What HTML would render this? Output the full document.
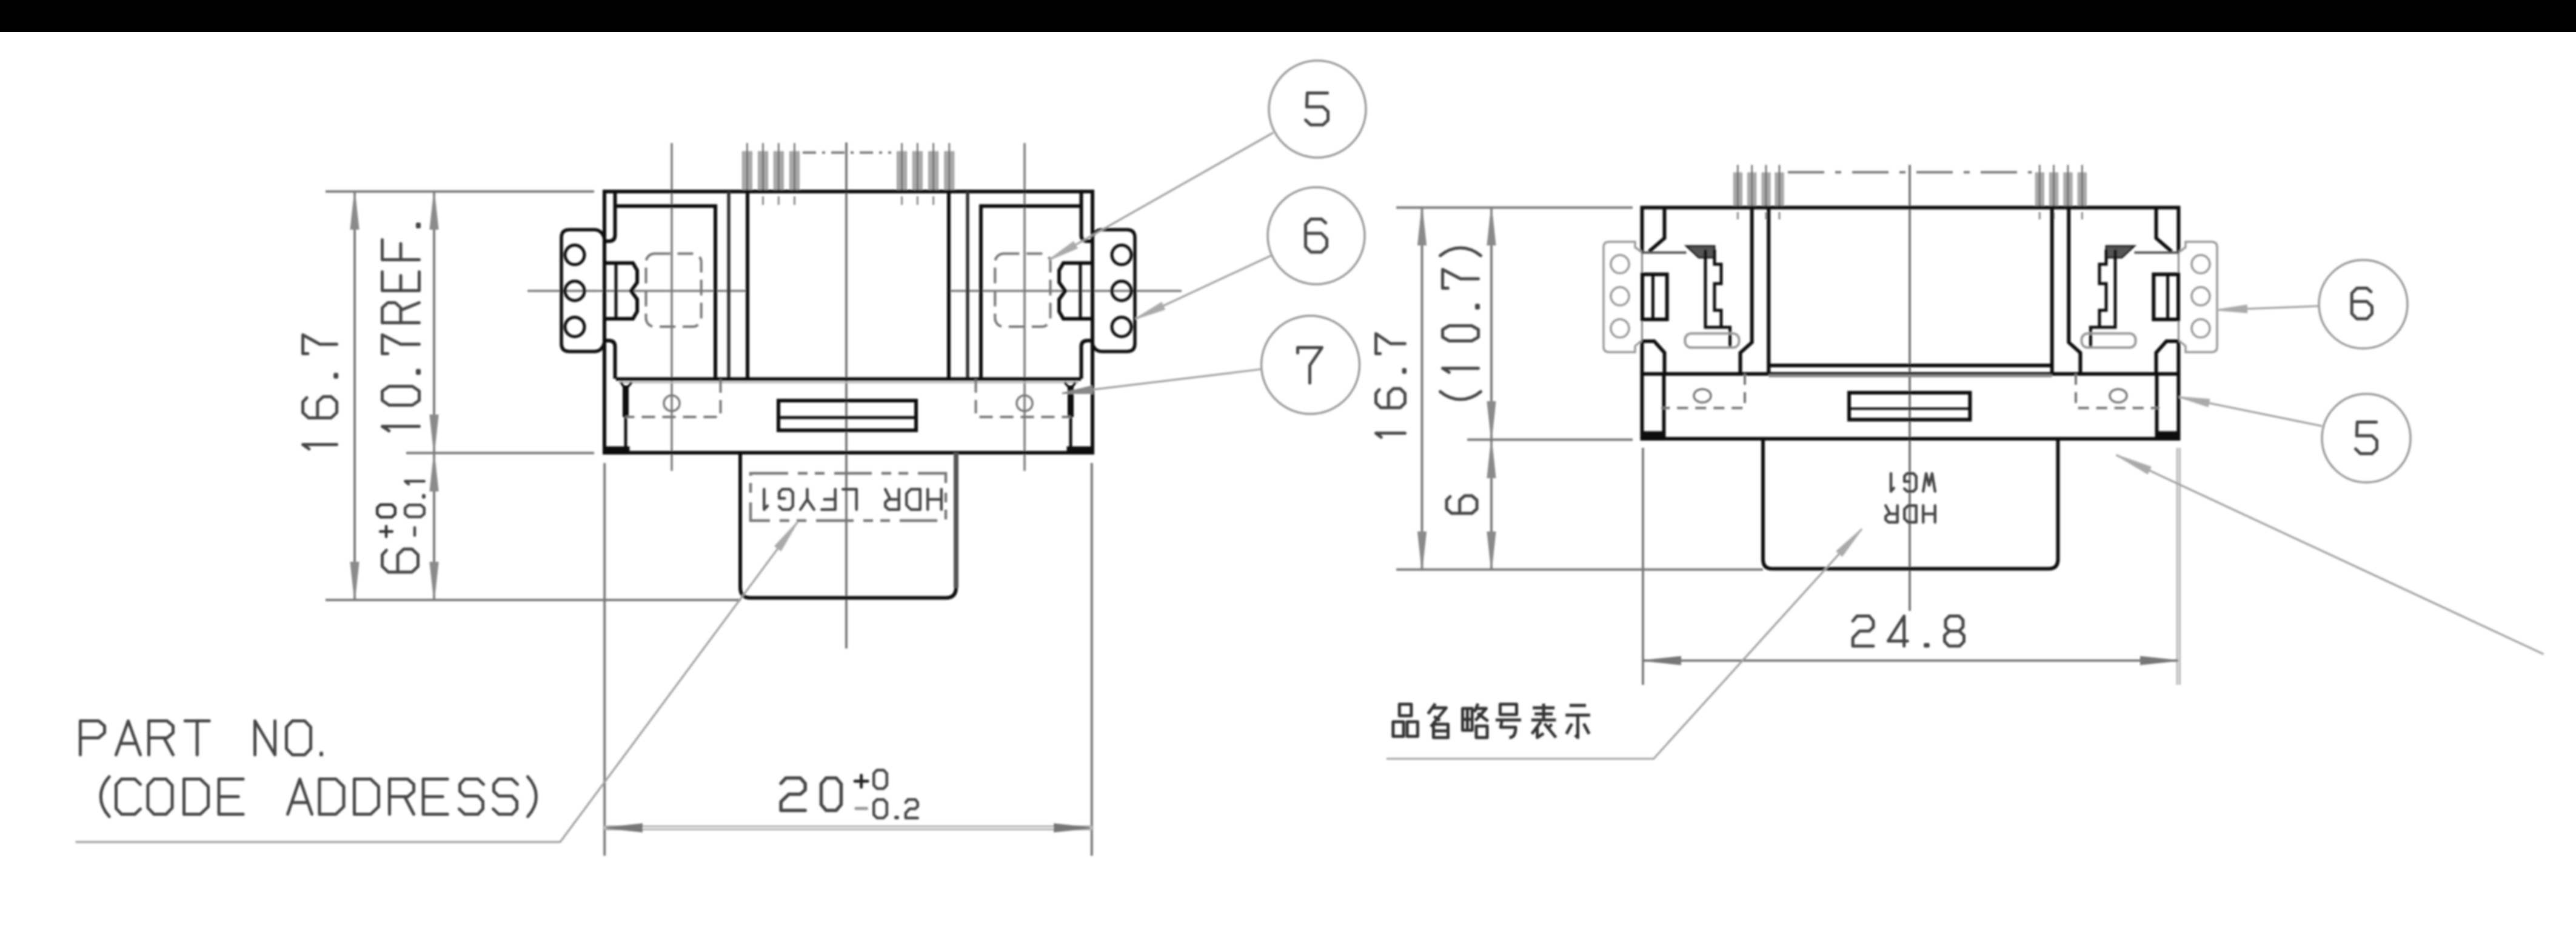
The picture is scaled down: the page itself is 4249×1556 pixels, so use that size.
<!DOCTYPE html>
<html><head><meta charset="utf-8"><title>Drawing</title>
<style>html,body{margin:0;padding:0;background:#fff;overflow:hidden}svg{display:block}</style>
</head><body>
<svg width="4249" height="1556" viewBox="0 0 4249 1556">
<defs><filter id="bl" x="0" y="0" width="4249" height="1556" filterUnits="userSpaceOnUse"><feGaussianBlur stdDeviation="1.6"/></filter></defs>
<rect width="4249" height="1556" fill="#fff"/>
<g filter="url(#bl)">
<line x1="1396.0" y1="235.0" x2="1396.0" y2="1070.0" stroke="#7a7a7a" stroke-width="4" />
<line x1="1108.0" y1="236.0" x2="1108.0" y2="777.0" stroke="#7a7a7a" stroke-width="3.5" />
<line x1="1690.0" y1="236.0" x2="1690.0" y2="777.0" stroke="#7a7a7a" stroke-width="3.5" />
<line x1="870.0" y1="480.0" x2="1232.0" y2="480.0" stroke="#7a7a7a" stroke-width="3.5" />
<line x1="1566.0" y1="480.0" x2="1949.0" y2="480.0" stroke="#7a7a7a" stroke-width="3.5" />
<line x1="1324.0" y1="251.7" x2="1470.0" y2="251.7" stroke="#7a7a7a" stroke-width="4" stroke-dasharray="22 10 5 10"/>
<rect x="1224.3" y="250.0" width="16.0" height="64.0" rx="0" stroke="#999" stroke-width="1" fill="#a9a9a9" />
<line x1="1232.3" y1="236.0" x2="1232.3" y2="316.0" stroke="#666" stroke-width="2.5" />
<rect x="1250.5" y="250.0" width="16.0" height="64.0" rx="0" stroke="#999" stroke-width="1" fill="#a9a9a9" />
<line x1="1258.5" y1="236.0" x2="1258.5" y2="316.0" stroke="#666" stroke-width="2.5" />
<rect x="1276.3" y="250.0" width="16.0" height="64.0" rx="0" stroke="#999" stroke-width="1" fill="#a9a9a9" />
<line x1="1284.3" y1="236.0" x2="1284.3" y2="316.0" stroke="#666" stroke-width="2.5" />
<rect x="1302.5" y="250.0" width="16.0" height="64.0" rx="0" stroke="#999" stroke-width="1" fill="#a9a9a9" />
<line x1="1310.5" y1="236.0" x2="1310.5" y2="316.0" stroke="#666" stroke-width="2.5" />
<rect x="1479.6" y="250.0" width="16.0" height="64.0" rx="0" stroke="#999" stroke-width="1" fill="#a9a9a9" />
<line x1="1487.6" y1="236.0" x2="1487.6" y2="316.0" stroke="#666" stroke-width="2.5" />
<rect x="1505.3" y="250.0" width="16.0" height="64.0" rx="0" stroke="#999" stroke-width="1" fill="#a9a9a9" />
<line x1="1513.3" y1="236.0" x2="1513.3" y2="316.0" stroke="#666" stroke-width="2.5" />
<rect x="1531.6" y="250.0" width="16.0" height="64.0" rx="0" stroke="#999" stroke-width="1" fill="#a9a9a9" />
<line x1="1539.6" y1="236.0" x2="1539.6" y2="316.0" stroke="#666" stroke-width="2.5" />
<rect x="1557.8" y="250.0" width="16.0" height="64.0" rx="0" stroke="#999" stroke-width="1" fill="#a9a9a9" />
<line x1="1565.8" y1="236.0" x2="1565.8" y2="316.0" stroke="#666" stroke-width="2.5" />
<line x1="1258.5" y1="324.0" x2="1258.5" y2="338.0" stroke="#888" stroke-width="3" />
<line x1="1284.3" y1="324.0" x2="1284.3" y2="338.0" stroke="#888" stroke-width="3" />
<line x1="1310.5" y1="324.0" x2="1310.5" y2="338.0" stroke="#888" stroke-width="3" />
<line x1="1487.6" y1="324.0" x2="1487.6" y2="338.0" stroke="#888" stroke-width="3" />
<line x1="1513.3" y1="324.0" x2="1513.3" y2="338.0" stroke="#888" stroke-width="3" />
<line x1="1539.6" y1="324.0" x2="1539.6" y2="338.0" stroke="#888" stroke-width="3" />
<path d="M997 316H1802V747H997Z" stroke="#111" stroke-width="6" fill="none" />
<path d="M1014.5 340H1180V624" stroke="#111" stroke-width="6" fill="none" />
<path d="M1783.5 340H1618.0V624" stroke="#111" stroke-width="6" fill="none" />
<line x1="1202.0" y1="316.0" x2="1202.0" y2="625.0" stroke="#333" stroke-width="5.5" />
<line x1="1596.0" y1="316.0" x2="1596.0" y2="625.0" stroke="#333" stroke-width="5.5" />
<line x1="1233.0" y1="316.0" x2="1233.0" y2="625.0" stroke="#111" stroke-width="6" />
<line x1="1565.0" y1="316.0" x2="1565.0" y2="625.0" stroke="#111" stroke-width="6" />
<line x1="1016.0" y1="625.5" x2="1783.0" y2="625.5" stroke="#111" stroke-width="6" />
<line x1="1020.0" y1="631.0" x2="1779.0" y2="631.0" stroke="#bbb" stroke-width="3" />
<path d="M1014.5 316V388Q1014.5 398 1004 398H997" stroke="#111" stroke-width="6" fill="none" />
<path d="M997 562H1004Q1014.5 562 1014.5 572V625" stroke="#111" stroke-width="6" fill="none" />
<path d="M1783.5 316V388Q1783.5 398 1794.0 398H1801.0" stroke="#111" stroke-width="6" fill="none" />
<path d="M1801.0 562H1794.0Q1783.5 562 1783.5 572V625" stroke="#111" stroke-width="6" fill="none" />
<path d="M997 394Q993 379 980 379H939Q926 379 926 392V567Q926 580 939 580H980Q993 580 997 565" stroke="#111" stroke-width="5.5" fill="none" />
<circle cx="948.0" cy="420.6" r="16.0" stroke="#111" stroke-width="5" fill="none" />
<circle cx="948.0" cy="480.0" r="16.0" stroke="#111" stroke-width="5" fill="none" />
<circle cx="948.0" cy="539.4" r="16.0" stroke="#111" stroke-width="5" fill="none" />
<path d="M997.0 434.0 L1044.0 434.0 L1051.0 446.0 L1051.0 466.0 L1041.0 480.0 L1051.0 494.0 L1051.0 514.0 L1044.0 526.0 L997.0 526.0" stroke="#111" stroke-width="6" fill="none"/>
<line x1="1016.0" y1="434.0" x2="1016.0" y2="526.0" stroke="#111" stroke-width="5" />
<rect x="1065.5" y="418.5" width="91.2" height="120.5" rx="14" stroke="#777" stroke-width="4" fill="none" stroke-dasharray="26 12"/>
<line x1="1032.0" y1="640.0" x2="1032.0" y2="745.0" stroke="#111" stroke-width="5" />
<line x1="1032.0" y1="636.0" x2="1032.0" y2="688.0" stroke="#111" stroke-width="10" />
<path d="M1024 631L1032 642L1042 631" stroke="#111" stroke-width="4" fill="none" />
<rect x="997.0" y="737.0" width="41.0" height="9.0" rx="0" stroke="#111" stroke-width="1" fill="#111" />
<path d="M1188.5 626V688H1031.5" stroke="#777" stroke-width="4" fill="none" stroke-dasharray="22 12"/>
<circle cx="1108.0" cy="665.4" r="13.0" stroke="#777" stroke-width="3.5" fill="none" />
<path d="M1801.0 394Q1805.0 379 1818.0 379H1859.0Q1872.0 379 1872.0 392V567Q1872.0 580 1859.0 580H1818.0Q1805.0 580 1801.0 565" stroke="#111" stroke-width="5.5" fill="none" />
<circle cx="1850.0" cy="420.6" r="16.0" stroke="#111" stroke-width="5" fill="none" />
<circle cx="1850.0" cy="480.0" r="16.0" stroke="#111" stroke-width="5" fill="none" />
<circle cx="1850.0" cy="539.4" r="16.0" stroke="#111" stroke-width="5" fill="none" />
<path d="M1801.0 434.0 L1754.0 434.0 L1747.0 446.0 L1747.0 466.0 L1757.0 480.0 L1747.0 494.0 L1747.0 514.0 L1754.0 526.0 L1801.0 526.0" stroke="#111" stroke-width="6" fill="none"/>
<line x1="1782.0" y1="434.0" x2="1782.0" y2="526.0" stroke="#111" stroke-width="5" />
<rect x="1641.3" y="418.5" width="91.2" height="120.5" rx="14" stroke="#777" stroke-width="4" fill="none" stroke-dasharray="26 12"/>
<line x1="1766.0" y1="640.0" x2="1766.0" y2="745.0" stroke="#111" stroke-width="5" />
<line x1="1766.0" y1="636.0" x2="1766.0" y2="688.0" stroke="#111" stroke-width="10" />
<path d="M1774.0 631L1766.0 642L1756.0 631" stroke="#111" stroke-width="4" fill="none" />
<rect x="1760.0" y="737.0" width="41.0" height="9.0" rx="0" stroke="#111" stroke-width="1" fill="#111" />
<path d="M1609.5 626V688H1766.5" stroke="#777" stroke-width="4" fill="none" stroke-dasharray="22 12"/>
<circle cx="1690.0" cy="665.4" r="13.0" stroke="#777" stroke-width="3.5" fill="none" />
<rect x="1284.0" y="661.0" width="227.0" height="49.0" rx="0" stroke="#111" stroke-width="6" fill="none" />
<line x1="1284.0" y1="689.0" x2="1511.0" y2="689.0" stroke="#111" stroke-width="5" />
<path d="M1221 747V969Q1221 986.6 1238 986.6H1560Q1577 986.6 1577 969" stroke="#111" stroke-width="6" fill="none" />
<line x1="1577.0" y1="747.0" x2="1577.0" y2="970.0" stroke="#555" stroke-width="8" />
<rect x="1238.0" y="781.0" width="322.0" height="78.0" rx="0" stroke="#777" stroke-width="4.5" fill="none" stroke-dasharray="62 16 16 12 16 16"/>
<line x1="537.0" y1="316.0" x2="980.0" y2="316.0" stroke="#7a7a7a" stroke-width="4" />
<line x1="670.0" y1="747.5" x2="980.0" y2="747.5" stroke="#7a7a7a" stroke-width="4" />
<line x1="537.0" y1="990.0" x2="1222.0" y2="990.0" stroke="#7a7a7a" stroke-width="4" />
<line x1="585.0" y1="316.0" x2="585.0" y2="990.0" stroke="#7a7a7a" stroke-width="4" />
<path d="M585.0 318.0L591.5 378.0L578.5 378.0Z" fill="#8a8a8a" stroke="#8a8a8a" stroke-width="2"/>
<path d="M585.0 988.0L578.5 928.0L591.5 928.0Z" fill="#8a8a8a" stroke="#8a8a8a" stroke-width="2"/>
<line x1="716.0" y1="316.0" x2="716.0" y2="990.0" stroke="#7a7a7a" stroke-width="4" />
<path d="M716.0 318.0L722.5 378.0L709.5 378.0Z" fill="#8a8a8a" stroke="#8a8a8a" stroke-width="2"/>
<path d="M716.0 745.0L709.5 685.0L722.5 685.0Z" fill="#8a8a8a" stroke="#8a8a8a" stroke-width="2"/>
<path d="M716.0 750.0L722.5 810.0L709.5 810.0Z" fill="#8a8a8a" stroke="#8a8a8a" stroke-width="2"/>
<path d="M716.0 988.0L709.5 928.0L722.5 928.0Z" fill="#8a8a8a" stroke="#8a8a8a" stroke-width="2"/>
<line x1="997.2" y1="764.0" x2="997.2" y2="1412.0" stroke="#7a7a7a" stroke-width="4" />
<line x1="1800.8" y1="764.0" x2="1800.8" y2="1412.0" stroke="#7a7a7a" stroke-width="4" />
<line x1="997.0" y1="1366.0" x2="1801.0" y2="1366.0" stroke="#aaa" stroke-width="8" />
<line x1="997.0" y1="1366.0" x2="1801.0" y2="1366.0" stroke="#eee" stroke-width="3" />
<path d="M999.0 1366.0L1059.0 1359.5L1059.0 1372.5Z" fill="#777" stroke="#777" stroke-width="2"/>
<path d="M1799.0 1366.0L1739.0 1372.5L1739.0 1359.5Z" fill="#777" stroke="#777" stroke-width="2"/>
<line x1="3150.0" y1="272.0" x2="3150.0" y2="1008.0" stroke="#7a7a7a" stroke-width="4" />
<line x1="2949.0" y1="284.3" x2="3351.5" y2="284.3" stroke="#7a7a7a" stroke-width="4" stroke-dasharray="60 18 10 18"/>
<rect x="2859.4" y="285.0" width="14.0" height="57.0" rx="0" stroke="#999" stroke-width="1" fill="#a9a9a9" />
<line x1="2866.4" y1="272.0" x2="2866.4" y2="342.0" stroke="#666" stroke-width="2.5" />
<rect x="2882.7" y="285.0" width="14.0" height="57.0" rx="0" stroke="#999" stroke-width="1" fill="#a9a9a9" />
<line x1="2889.7" y1="272.0" x2="2889.7" y2="342.0" stroke="#666" stroke-width="2.5" />
<rect x="2906.0" y="285.0" width="14.0" height="57.0" rx="0" stroke="#999" stroke-width="1" fill="#a9a9a9" />
<line x1="2913.0" y1="272.0" x2="2913.0" y2="342.0" stroke="#666" stroke-width="2.5" />
<rect x="2928.0" y="285.0" width="14.0" height="57.0" rx="0" stroke="#999" stroke-width="1" fill="#a9a9a9" />
<line x1="2935.0" y1="272.0" x2="2935.0" y2="342.0" stroke="#666" stroke-width="2.5" />
<rect x="3357.3" y="285.0" width="14.0" height="57.0" rx="0" stroke="#999" stroke-width="1" fill="#a9a9a9" />
<line x1="3364.3" y1="272.0" x2="3364.3" y2="342.0" stroke="#666" stroke-width="2.5" />
<rect x="3380.6" y="285.0" width="14.0" height="57.0" rx="0" stroke="#999" stroke-width="1" fill="#a9a9a9" />
<line x1="3387.6" y1="272.0" x2="3387.6" y2="342.0" stroke="#666" stroke-width="2.5" />
<rect x="3404.0" y="285.0" width="14.0" height="57.0" rx="0" stroke="#999" stroke-width="1" fill="#a9a9a9" />
<line x1="3411.0" y1="272.0" x2="3411.0" y2="342.0" stroke="#666" stroke-width="2.5" />
<rect x="3427.3" y="285.0" width="14.0" height="57.0" rx="0" stroke="#999" stroke-width="1" fill="#a9a9a9" />
<line x1="3434.3" y1="272.0" x2="3434.3" y2="342.0" stroke="#666" stroke-width="2.5" />
<line x1="2866.4" y1="350.0" x2="2866.4" y2="362.0" stroke="#888" stroke-width="3" />
<line x1="2913.0" y1="350.0" x2="2913.0" y2="362.0" stroke="#888" stroke-width="3" />
<line x1="2935.0" y1="350.0" x2="2935.0" y2="362.0" stroke="#888" stroke-width="3" />
<line x1="3364.3" y1="350.0" x2="3364.3" y2="362.0" stroke="#888" stroke-width="3" />
<line x1="3387.6" y1="350.0" x2="3387.6" y2="362.0" stroke="#888" stroke-width="3" />
<line x1="3434.3" y1="350.0" x2="3434.3" y2="362.0" stroke="#888" stroke-width="3" />
<path d="M2708.5 417V342.4H3593.4V417" stroke="#111" stroke-width="6" fill="none" />
<path d="M2708.5 562V724H3593.4V562" stroke="#111" stroke-width="6" fill="none" />
<line x1="2708.5" y1="417.0" x2="2708.5" y2="562.0" stroke="#888" stroke-width="3" />
<line x1="3593.4" y1="417.0" x2="3593.4" y2="562.0" stroke="#888" stroke-width="3" />
<line x1="2708.5" y1="617.0" x2="3593.4" y2="617.0" stroke="#111" stroke-width="6" />
<line x1="2917.3" y1="342.0" x2="2917.3" y2="617.0" stroke="#111" stroke-width="6" />
<line x1="3384.7" y1="342.0" x2="3384.7" y2="617.0" stroke="#111" stroke-width="6" />
<line x1="2917.3" y1="603.0" x2="3384.7" y2="603.0" stroke="#111" stroke-width="6" />
<line x1="2917.3" y1="620.0" x2="3384.7" y2="620.0" stroke="#888" stroke-width="5" />
<path d="M2889.7 342V565L2870.6 582V617" stroke="#111" stroke-width="6" fill="none" />
<path d="M2745.5 342V393L2720 415" stroke="#111" stroke-width="6" fill="none" />
<line x1="2708.5" y1="416.7" x2="2781.5" y2="416.7" stroke="#555" stroke-width="4" />
<path d="M2781.5 406H2828V425H2802Z" fill="#555" stroke="#222" stroke-width="3"/>
<path d="M2813 412V540H2853.6V573.6" stroke="#111" stroke-width="5" fill="none" />
<path d="M2828 412V436H2839V468H2828V512H2839V540" stroke="#111" stroke-width="5" fill="none" />
<rect x="2779.4" y="550.3" width="89.1" height="23.3" rx="10" stroke="#999" stroke-width="4" fill="none" />
<rect x="2709.0" y="452.7" width="40.7" height="74.3" rx="0" stroke="#111" stroke-width="6" fill="none" />
<line x1="2726.4" y1="452.7" x2="2726.4" y2="527.0" stroke="#111" stroke-width="5" />
<path d="M2709 563H2728.5L2745.5 582V617" stroke="#111" stroke-width="6" fill="none" />
<path d="M2708 416L2697 408V399H2654Q2645 399 2645 408V572Q2645 581 2654 581H2697V571L2708 562" stroke="#999" stroke-width="3.5" fill="none" />
<circle cx="2672.0" cy="435.8" r="15.0" stroke="#999" stroke-width="3.5" fill="none" />
<circle cx="2672.0" cy="488.8" r="15.0" stroke="#999" stroke-width="3.5" fill="none" />
<circle cx="2672.0" cy="541.8" r="15.0" stroke="#999" stroke-width="3.5" fill="none" />
<line x1="2744.5" y1="620.0" x2="2744.5" y2="722.0" stroke="#111" stroke-width="6" />
<rect x="2708.5" y="712.0" width="36.0" height="12.0" rx="0" stroke="#111" stroke-width="1" fill="#111" />
<path d="M2878 617V673.3H2740" stroke="#777" stroke-width="4" fill="none" stroke-dasharray="18 12"/>
<ellipse cx="2808" cy="653" rx="14" ry="11" stroke="#777" stroke-width="3.5" fill="none"/>
<path d="M3412.3 342V565L3431.4 582V617" stroke="#111" stroke-width="6" fill="none" />
<path d="M3556.5 342V393L3582.0 415" stroke="#111" stroke-width="6" fill="none" />
<line x1="3593.5" y1="416.7" x2="3520.5" y2="416.7" stroke="#555" stroke-width="4" />
<path d="M3520.5 406H3474.0V425H3500.0Z" fill="#555" stroke="#222" stroke-width="3"/>
<path d="M3489.0 412V540H3448.4V573.6" stroke="#111" stroke-width="5" fill="none" />
<path d="M3474.0 412V436H3463.0V468H3474.0V512H3463.0V540" stroke="#111" stroke-width="5" fill="none" />
<rect x="3433.5" y="550.3" width="89.1" height="23.3" rx="10" stroke="#999" stroke-width="4" fill="none" />
<rect x="3552.3" y="452.7" width="40.7" height="74.3" rx="0" stroke="#111" stroke-width="6" fill="none" />
<line x1="3575.6" y1="452.7" x2="3575.6" y2="527.0" stroke="#111" stroke-width="5" />
<path d="M3593.0 563H3573.5L3556.5 582V617" stroke="#111" stroke-width="6" fill="none" />
<path d="M3594.0 416L3605.0 408V399H3648.0Q3657.0 399 3657.0 408V572Q3657.0 581 3648.0 581H3605.0V571L3594.0 562" stroke="#999" stroke-width="3.5" fill="none" />
<circle cx="3630.0" cy="435.8" r="15.0" stroke="#999" stroke-width="3.5" fill="none" />
<circle cx="3630.0" cy="488.8" r="15.0" stroke="#999" stroke-width="3.5" fill="none" />
<circle cx="3630.0" cy="541.8" r="15.0" stroke="#999" stroke-width="3.5" fill="none" />
<line x1="3557.5" y1="620.0" x2="3557.5" y2="722.0" stroke="#111" stroke-width="6" />
<rect x="3557.5" y="712.0" width="36.0" height="12.0" rx="0" stroke="#111" stroke-width="1" fill="#111" />
<path d="M3424.0 617V673.3H3562.0" stroke="#777" stroke-width="4" fill="none" stroke-dasharray="18 12"/>
<ellipse cx="3494.0" cy="653" rx="14" ry="11" stroke="#777" stroke-width="3.5" fill="none"/>
<rect x="3050.0" y="648.0" width="199.4" height="44.4" rx="0" stroke="#111" stroke-width="6" fill="none" />
<line x1="3050.0" y1="674.2" x2="3249.4" y2="674.2" stroke="#111" stroke-width="4" />
<path d="M2908 724V923Q2908 938.5 2923 938.5H3379Q3394.5 938.5 3394.5 923V724" stroke="#111" stroke-width="6" fill="none" />
<line x1="2303.0" y1="342.4" x2="2693.0" y2="342.4" stroke="#7a7a7a" stroke-width="4" />
<line x1="2420.0" y1="725.5" x2="2693.0" y2="725.5" stroke="#7a7a7a" stroke-width="4" />
<line x1="2303.0" y1="939.8" x2="2908.0" y2="939.8" stroke="#7a7a7a" stroke-width="4" />
<line x1="2345.5" y1="342.0" x2="2345.5" y2="940.0" stroke="#7a7a7a" stroke-width="4" />
<path d="M2345.5 344.0L2352.0 404.0L2339.0 404.0Z" fill="#8a8a8a" stroke="#8a8a8a" stroke-width="2"/>
<path d="M2345.5 938.0L2339.0 878.0L2352.0 878.0Z" fill="#8a8a8a" stroke="#8a8a8a" stroke-width="2"/>
<line x1="2460.0" y1="342.0" x2="2460.0" y2="940.0" stroke="#7a7a7a" stroke-width="4" />
<path d="M2460.0 344.0L2466.5 404.0L2453.5 404.0Z" fill="#8a8a8a" stroke="#8a8a8a" stroke-width="2"/>
<path d="M2460.0 723.0L2453.5 663.0L2466.5 663.0Z" fill="#8a8a8a" stroke="#8a8a8a" stroke-width="2"/>
<path d="M2460.0 728.0L2466.5 788.0L2453.5 788.0Z" fill="#8a8a8a" stroke="#8a8a8a" stroke-width="2"/>
<path d="M2460.0 938.0L2453.5 878.0L2466.5 878.0Z" fill="#8a8a8a" stroke="#8a8a8a" stroke-width="2"/>
<line x1="2710.0" y1="739.0" x2="2710.0" y2="1130.0" stroke="#7a7a7a" stroke-width="4" />
<line x1="3593.3" y1="739.0" x2="3593.3" y2="1130.0" stroke="#aaa" stroke-width="7" />
<line x1="3593.3" y1="739.0" x2="3593.3" y2="1130.0" stroke="#f4f4f4" stroke-width="2" />
<line x1="2710.0" y1="1090.0" x2="3593.0" y2="1090.0" stroke="#7a7a7a" stroke-width="4" />
<path d="M2712.0 1090.0L2772.0 1083.5L2772.0 1096.5Z" fill="#777" stroke="#777" stroke-width="2"/>
<path d="M3591.0 1090.0L3531.0 1096.5L3531.0 1083.5Z" fill="#777" stroke="#777" stroke-width="2"/>
<circle cx="2173.0" cy="180.0" r="80.0" stroke="#999" stroke-width="3.5" fill="none" />
<circle cx="2171.0" cy="389.0" r="80.0" stroke="#999" stroke-width="3.5" fill="none" />
<circle cx="2161.5" cy="602.0" r="81.0" stroke="#999" stroke-width="3.5" fill="none" />
<path d="M2100.0 219.0 L1730.0 429.0" stroke="#a0a0a0" stroke-width="3.2" fill="none"/>
<path d="M1730.0 429.0L1770.5 399.1L1776.4 409.5Z" fill="#aaa" stroke="#aaa" stroke-width="2"/>
<path d="M2096.0 422.0 L1873.0 526.0" stroke="#a0a0a0" stroke-width="3.2" fill="none"/>
<path d="M1873.0 526.0L1915.8 499.4L1920.9 510.3Z" fill="#aaa" stroke="#aaa" stroke-width="2"/>
<path d="M2081.0 609.0 L2066.0 611.0 L1752.0 649.0" stroke="#a0a0a0" stroke-width="3.2" fill="none"/>
<path d="M1752.0 649.0L1800.9 637.0L1802.4 648.9Z" fill="#888" stroke="#888" stroke-width="2"/>
<path d="M124.5 1389.3 L924.0 1389.3 L1316.0 860.6" stroke="#a0a0a0" stroke-width="3.2" fill="none"/>
<path d="M1316.0 860.6L1288.1 908.4L1278.4 901.2Z" fill="#aaa" stroke="#aaa" stroke-width="2"/>
<circle cx="3898.0" cy="502.0" r="73.0" stroke="#999" stroke-width="3.5" fill="none" />
<circle cx="3903.0" cy="723.0" r="73.0" stroke="#999" stroke-width="3.5" fill="none" />
<path d="M3825.0 505.0 L3656.0 511.5" stroke="#a0a0a0" stroke-width="3.2" fill="none"/>
<path d="M3656.0 511.5L3705.7 503.6L3706.2 515.6Z" fill="#aaa" stroke="#aaa" stroke-width="2"/>
<path d="M3830.0 703.0 L3594.0 655.0" stroke="#a0a0a0" stroke-width="3.2" fill="none"/>
<path d="M3594.0 655.0L3644.2 659.1L3641.8 670.8Z" fill="#aaa" stroke="#aaa" stroke-width="2"/>
<path d="M4195.5 1079.4 L3490.5 750.7" stroke="#a0a0a0" stroke-width="3.2" fill="none"/>
<path d="M3490.5 750.7L3547.4 770.6L3542.3 781.5Z" fill="#aaa" stroke="#aaa" stroke-width="2"/>
<path d="M2287.0 1252.0 L2727.6 1252.0 L3071.0 872.7" stroke="#a0a0a0" stroke-width="3.2" fill="none"/>
<path d="M3071.0 872.7L3038.5 917.5L3029.6 909.4Z" fill="#aaa" stroke="#aaa" stroke-width="2"/>
<path d="M0 6V0H3L4 0.9V2.1L3 3H0" transform="translate(132.50,1189.50) scale(10.0000,9.3333)" stroke="#444" stroke-width="5" fill="none" vector-effect="non-scaling-stroke" stroke-linecap="round" stroke-linejoin="round"/>
<path d="M0 6L2 0L4 6M0.7 4H3.3" transform="translate(191.50,1189.50) scale(10.0000,9.3333)" stroke="#444" stroke-width="5" fill="none" vector-effect="non-scaling-stroke" stroke-linecap="round" stroke-linejoin="round"/>
<path d="M0 6V0H3L4 0.9V2.1L3 3H0M2.5 3L4 6" transform="translate(245.50,1189.50) scale(10.0000,9.3333)" stroke="#444" stroke-width="5" fill="none" vector-effect="non-scaling-stroke" stroke-linecap="round" stroke-linejoin="round"/>
<path d="M0 0H4M2 0V6" transform="translate(305.20,1189.50) scale(10.0000,9.3333)" stroke="#444" stroke-width="5" fill="none" vector-effect="non-scaling-stroke" stroke-linecap="round" stroke-linejoin="round"/>
<path d="M0 6V0L4 6V0" transform="translate(420.50,1189.50) scale(8.2500,9.3333)" stroke="#444" stroke-width="5" fill="none" vector-effect="non-scaling-stroke" stroke-linecap="round" stroke-linejoin="round"/>
<path d="M1 0H3L4 1.1V4.9L3 6H1L0 4.9V1.1Z" transform="translate(472.50,1189.50) scale(10.0000,9.3333)" stroke="#444" stroke-width="5" fill="none" vector-effect="non-scaling-stroke" stroke-linecap="round" stroke-linejoin="round"/>
<path d="M1.7 5.7H2.3V6H1.7Z" transform="translate(526.50,1189.50) scale(1.7500,9.3333)" stroke="#444" stroke-width="5" fill="none" vector-effect="non-scaling-stroke" stroke-linecap="round" stroke-linejoin="round"/>
<path d="M2.6 -0.4Q1 1.2 1 3Q1 4.8 2.6 6.4" transform="translate(157.50,1285.50) scale(8.7500,9.6667)" stroke="#444" stroke-width="5" fill="none" vector-effect="non-scaling-stroke" stroke-linecap="round" stroke-linejoin="round"/>
<path d="M4 0.9L3.1 0H0.9L0 1V5L0.9 6H3.1L4 5.1" transform="translate(191.50,1285.50) scale(10.0000,9.6667)" stroke="#444" stroke-width="5" fill="none" vector-effect="non-scaling-stroke" stroke-linecap="round" stroke-linejoin="round"/>
<path d="M1 0H3L4 1.1V4.9L3 6H1L0 4.9V1.1Z" transform="translate(244.00,1285.50) scale(10.0000,9.6667)" stroke="#444" stroke-width="5" fill="none" vector-effect="non-scaling-stroke" stroke-linecap="round" stroke-linejoin="round"/>
<path d="M0 0V6H2.7L4 4.7V1.3L2.7 0Z" transform="translate(303.50,1285.50) scale(10.0000,9.6667)" stroke="#444" stroke-width="5" fill="none" vector-effect="non-scaling-stroke" stroke-linecap="round" stroke-linejoin="round"/>
<path d="M4 0H0V6H4M0 3H3.2" transform="translate(361.10,1285.50) scale(10.0000,9.6667)" stroke="#444" stroke-width="5" fill="none" vector-effect="non-scaling-stroke" stroke-linecap="round" stroke-linejoin="round"/>
<path d="M0 6L2 0L4 6M0.7 4H3.3" transform="translate(474.50,1285.50) scale(10.0000,9.6667)" stroke="#444" stroke-width="5" fill="none" vector-effect="non-scaling-stroke" stroke-linecap="round" stroke-linejoin="round"/>
<path d="M0 0V6H2.7L4 4.7V1.3L2.7 0Z" transform="translate(527.00,1285.50) scale(10.0000,9.6667)" stroke="#444" stroke-width="5" fill="none" vector-effect="non-scaling-stroke" stroke-linecap="round" stroke-linejoin="round"/>
<path d="M0 0V6H2.7L4 4.7V1.3L2.7 0Z" transform="translate(584.50,1285.50) scale(10.0000,9.6667)" stroke="#444" stroke-width="5" fill="none" vector-effect="non-scaling-stroke" stroke-linecap="round" stroke-linejoin="round"/>
<path d="M0 6V0H3L4 0.9V2.1L3 3H0M2.5 3L4 6" transform="translate(642.50,1285.50) scale(10.0000,9.6667)" stroke="#444" stroke-width="5" fill="none" vector-effect="non-scaling-stroke" stroke-linecap="round" stroke-linejoin="round"/>
<path d="M4 0H0V6H4M0 3H3.2" transform="translate(698.20,1285.50) scale(10.0000,9.6667)" stroke="#444" stroke-width="5" fill="none" vector-effect="non-scaling-stroke" stroke-linecap="round" stroke-linejoin="round"/>
<path d="M4 0.9L3.1 0H0.9L0.1 0.9V2.1L0.9 2.9H3.1L3.9 3.8V5.1L3.1 6H0.9L0 5.1" transform="translate(757.50,1285.50) scale(10.0000,9.6667)" stroke="#444" stroke-width="5" fill="none" vector-effect="non-scaling-stroke" stroke-linecap="round" stroke-linejoin="round"/>
<path d="M4 0.9L3.1 0H0.9L0.1 0.9V2.1L0.9 2.9H3.1L3.9 3.8V5.1L3.1 6H0.9L0 5.1" transform="translate(813.50,1285.50) scale(10.0000,9.6667)" stroke="#444" stroke-width="5" fill="none" vector-effect="non-scaling-stroke" stroke-linecap="round" stroke-linejoin="round"/>
<path d="M1.4 -0.4Q3 1.2 3 3Q3 4.8 1.4 6.4" transform="translate(858.20,1285.50) scale(8.7500,9.6667)" stroke="#444" stroke-width="5" fill="none" vector-effect="non-scaling-stroke" stroke-linecap="round" stroke-linejoin="round"/>
<path d="M0 1L0.8 0H3.2L4 1V2.2L3.2 3H1.3L0 4.4V6H4" transform="translate(1288.15,1283.75) scale(10.0000,8.9167)" stroke="#444" stroke-width="5.5" fill="none" vector-effect="non-scaling-stroke" stroke-linecap="round" stroke-linejoin="round"/>
<path d="M1 0H3L4 1.1V4.9L3 6H1L0 4.9V1.1Z" transform="translate(1354.55,1283.75) scale(8.2250,8.9167)" stroke="#444" stroke-width="5.5" fill="none" vector-effect="non-scaling-stroke" stroke-linecap="round" stroke-linejoin="round"/>
<path d="M2 1V5M0 3H4" transform="translate(1410.20,1274.50) scale(5.2500,4.8333)" stroke="#222" stroke-width="5" fill="none" vector-effect="non-scaling-stroke" stroke-linecap="round" stroke-linejoin="round"/>
<path d="M1 0H3L4 1.1V4.9L3 6H1L0 4.9V1.1Z" transform="translate(1441.25,1270.65) scale(5.3750,5.0833)" stroke="#444" stroke-width="4.5" fill="none" vector-effect="non-scaling-stroke" stroke-linecap="round" stroke-linejoin="round"/>
<path d="M0.3 3H3.7" transform="translate(1410.20,1319.50) scale(5.2500,4.8333)" stroke="#999" stroke-width="5" fill="none" vector-effect="non-scaling-stroke" stroke-linecap="round" stroke-linejoin="round"/>
<path d="M1 0H3L4 1.1V4.9L3 6H1L0 4.9V1.1Z" transform="translate(1441.25,1319.25) scale(5.3750,5.0833)" stroke="#444" stroke-width="4.5" fill="none" vector-effect="non-scaling-stroke" stroke-linecap="round" stroke-linejoin="round"/>
<path d="M1.7 5.7H2.3V6H1.7Z" transform="translate(1468.25,1319.25) scale(5.3750,5.0833)" stroke="#444" stroke-width="4.5" fill="none" vector-effect="non-scaling-stroke" stroke-linecap="round" stroke-linejoin="round"/>
<path d="M0 1L0.8 0H3.2L4 1V2.2L3.2 3H1.3L0 4.4V6H4" transform="translate(1493.85,1319.25) scale(4.9750,5.0833)" stroke="#444" stroke-width="4.5" fill="none" vector-effect="non-scaling-stroke" stroke-linecap="round" stroke-linejoin="round"/>
<path d="M0 1L0.8 0H3.2L4 1V2.2L3.2 3H1.3L0 4.4V6H4" transform="translate(3056.20,1016.50) scale(8.4500,8.2333)" stroke="#444" stroke-width="5" fill="none" vector-effect="non-scaling-stroke" stroke-linecap="round" stroke-linejoin="round"/>
<path d="M3.3 6V0L0 5H4" transform="translate(3114.50,1016.50) scale(7.9500,8.2333)" stroke="#444" stroke-width="5" fill="none" vector-effect="non-scaling-stroke" stroke-linecap="round" stroke-linejoin="round"/>
<path d="M1.7 5.7H2.3V6H1.7Z" transform="translate(3162.50,1016.50) scale(7.7500,8.2333)" stroke="#444" stroke-width="5" fill="none" vector-effect="non-scaling-stroke" stroke-linecap="round" stroke-linejoin="round"/>
<path d="M1 0H3L3.8 0.8V2.2L3 3H1L0.2 2.2V0.8ZM1 3H3L4 3.9V5.1L3.1 6H0.9L0 5.1V3.9Z" transform="translate(3207.50,1016.50) scale(8.0000,8.2333)" stroke="#444" stroke-width="5" fill="none" vector-effect="non-scaling-stroke" stroke-linecap="round" stroke-linejoin="round"/>
<path d="M3.9 0H0.3L0.2 2.6H3.1L4 3.5V5.1L3.1 6H0.9L0 5.1" transform="translate(2153.50,153.50) scale(9.2500,8.7500)" stroke="#444" stroke-width="5" fill="none" vector-effect="non-scaling-stroke" stroke-linecap="round" stroke-linejoin="round"/>
<path d="M3.8 0.7L3 0H1L0 1V5L1 6H3L4 5V3.6L3 2.6H0" transform="translate(2153.50,361.50) scale(8.7500,9.0833)" stroke="#444" stroke-width="5" fill="none" vector-effect="non-scaling-stroke" stroke-linecap="round" stroke-linejoin="round"/>
<path d="M0 0.9V0H4L2 3V6" transform="translate(2140.50,573.50) scale(10.0000,9.7667)" stroke="#444" stroke-width="5" fill="none" vector-effect="non-scaling-stroke" stroke-linecap="round" stroke-linejoin="round"/>
<path d="M3.8 0.7L3 0H1L0 1V5L1 6H3L4 5V3.6L3 2.6H0" transform="translate(3879.20,475.50) scale(8.3250,8.4167)" stroke="#444" stroke-width="5" fill="none" vector-effect="non-scaling-stroke" stroke-linecap="round" stroke-linejoin="round"/>
<path d="M3.9 0H0.3L0.2 2.6H3.1L4 3.5V5.1L3.1 6H0.9L0 5.1" transform="translate(3885.50,696.50) scale(8.7500,8.6667)" stroke="#444" stroke-width="5" fill="none" vector-effect="non-scaling-stroke" stroke-linecap="round" stroke-linejoin="round"/>
<path d="M1.2 1.1L2.2 0V6" transform="rotate(-90) translate(-749.50,499.50) scale(7.2500,9.3333)" stroke="#444" stroke-width="5" fill="none" vector-effect="non-scaling-stroke" stroke-linecap="round" stroke-linejoin="round"/>
<path d="M3.8 0.7L3 0H1L0 1V5L1 6H3L4 5V3.6L3 2.6H0" transform="rotate(-90) translate(-689.50,499.50) scale(8.7500,9.3333)" stroke="#444" stroke-width="5" fill="none" vector-effect="non-scaling-stroke" stroke-linecap="round" stroke-linejoin="round"/>
<path d="M1.7 5.7H2.3V6H1.7Z" transform="rotate(-90) translate(-635.50,499.50) scale(7.7500,9.3333)" stroke="#444" stroke-width="5" fill="none" vector-effect="non-scaling-stroke" stroke-linecap="round" stroke-linejoin="round"/>
<path d="M0 0.9V0H4L2 3V6" transform="rotate(-90) translate(-583.50,499.50) scale(7.7500,9.3333)" stroke="#444" stroke-width="5" fill="none" vector-effect="non-scaling-stroke" stroke-linecap="round" stroke-linejoin="round"/>
<path d="M1.2 1.1L2.2 0V6" transform="rotate(-90) translate(-719.50,630.50) scale(7.2500,10.1667)" stroke="#444" stroke-width="5" fill="none" vector-effect="non-scaling-stroke" stroke-linecap="round" stroke-linejoin="round"/>
<path d="M1 0H3L4 1.1V4.9L3 6H1L0 4.9V1.1Z" transform="rotate(-90) translate(-668.50,630.50) scale(7.7500,10.1667)" stroke="#444" stroke-width="5" fill="none" vector-effect="non-scaling-stroke" stroke-linecap="round" stroke-linejoin="round"/>
<path d="M1.7 5.7H2.3V6H1.7Z" transform="rotate(-90) translate(-629.10,630.50) scale(7.7500,10.1667)" stroke="#444" stroke-width="5" fill="none" vector-effect="non-scaling-stroke" stroke-linecap="round" stroke-linejoin="round"/>
<path d="M0 0.9V0H4L2 3V6" transform="rotate(-90) translate(-583.50,630.50) scale(7.7500,10.1667)" stroke="#444" stroke-width="5" fill="none" vector-effect="non-scaling-stroke" stroke-linecap="round" stroke-linejoin="round"/>
<path d="M0 6V0H3L4 0.9V2.1L3 3H0M2.5 3L4 6" transform="rotate(-90) translate(-532.50,630.50) scale(8.2500,10.1667)" stroke="#444" stroke-width="5" fill="none" vector-effect="non-scaling-stroke" stroke-linecap="round" stroke-linejoin="round"/>
<path d="M4 0H0V6H4M0 3H3.2" transform="rotate(-90) translate(-479.50,630.50) scale(7.7500,10.1667)" stroke="#444" stroke-width="5" fill="none" vector-effect="non-scaling-stroke" stroke-linecap="round" stroke-linejoin="round"/>
<path d="M4 0H0V6M0 3H3.2" transform="rotate(-90) translate(-428.50,630.50) scale(8.2500,10.1667)" stroke="#444" stroke-width="5" fill="none" vector-effect="non-scaling-stroke" stroke-linecap="round" stroke-linejoin="round"/>
<path d="M1.7 5.7H2.3V6H1.7Z" transform="rotate(-90) translate(-387.50,630.50) scale(7.7500,10.1667)" stroke="#444" stroke-width="5" fill="none" vector-effect="non-scaling-stroke" stroke-linecap="round" stroke-linejoin="round"/>
<path d="M3.8 0.7L3 0H1L0 1V5L1 6H3L4 5V3.6L3 2.6H0" transform="rotate(-90) translate(-944.00,630.50) scale(9.5000,9.8333)" stroke="#444" stroke-width="5" fill="none" vector-effect="non-scaling-stroke" stroke-linecap="round" stroke-linejoin="round"/>
<path d="M2 1V5M0 3H4" transform="rotate(-90) translate(-885.75,622.25) scale(4.3750,4.9167)" stroke="#333" stroke-width="4.5" fill="none" vector-effect="non-scaling-stroke" stroke-linecap="round" stroke-linejoin="round"/>
<path d="M1 0H3L4 1.1V4.9L3 6H1L0 4.9V1.1Z" transform="rotate(-90) translate(-853.25,622.25) scale(5.1250,4.9167)" stroke="#333" stroke-width="4.5" fill="none" vector-effect="non-scaling-stroke" stroke-linecap="round" stroke-linejoin="round"/>
<path d="M0.3 3H3.7" transform="rotate(-90) translate(-884.75,668.25) scale(3.8750,5.2500)" stroke="#444" stroke-width="4.5" fill="none" vector-effect="non-scaling-stroke" stroke-linecap="round" stroke-linejoin="round"/>
<path d="M1 0H3L4 1.1V4.9L3 6H1L0 4.9V1.1Z" transform="rotate(-90) translate(-852.75,668.25) scale(4.8750,5.2500)" stroke="#444" stroke-width="4.5" fill="none" vector-effect="non-scaling-stroke" stroke-linecap="round" stroke-linejoin="round"/>
<path d="M1.7 5.7H2.3V6H1.7Z" transform="rotate(-90) translate(-828.75,668.25) scale(4.8750,5.2500)" stroke="#444" stroke-width="4.5" fill="none" vector-effect="non-scaling-stroke" stroke-linecap="round" stroke-linejoin="round"/>
<path d="M1.2 1.1L2.2 0V6" transform="rotate(-90) translate(-804.75,668.25) scale(4.8750,5.2500)" stroke="#444" stroke-width="4.5" fill="none" vector-effect="non-scaling-stroke" stroke-linecap="round" stroke-linejoin="round"/>
<path d="M1.2 1.1L2.2 0V6" transform="rotate(-90) translate(-729.50,2269.50) scale(6.7500,8.0000)" stroke="#444" stroke-width="5" fill="none" vector-effect="non-scaling-stroke" stroke-linecap="round" stroke-linejoin="round"/>
<path d="M3.8 0.7L3 0H1L0 1V5L1 6H3L4 5V3.6L3 2.6H0" transform="rotate(-90) translate(-672.75,2269.50) scale(7.8750,8.0000)" stroke="#444" stroke-width="5" fill="none" vector-effect="non-scaling-stroke" stroke-linecap="round" stroke-linejoin="round"/>
<path d="M1.7 5.7H2.3V6H1.7Z" transform="rotate(-90) translate(-627.50,2269.50) scale(7.7500,8.0000)" stroke="#444" stroke-width="5" fill="none" vector-effect="non-scaling-stroke" stroke-linecap="round" stroke-linejoin="round"/>
<path d="M0 0.9V0H4L2 3V6" transform="rotate(-90) translate(-583.50,2269.50) scale(8.2500,8.0000)" stroke="#444" stroke-width="5" fill="none" vector-effect="non-scaling-stroke" stroke-linecap="round" stroke-linejoin="round"/>
<path d="M2.6 -0.4Q1 1.2 1 3Q1 4.8 2.6 6.4" transform="rotate(-90) translate(-667.00,2379.50) scale(8.0000,9.8333)" stroke="#444" stroke-width="5" fill="none" vector-effect="non-scaling-stroke" stroke-linecap="round" stroke-linejoin="round"/>
<path d="M1.2 1.1L2.2 0V6" transform="rotate(-90) translate(-622.50,2379.50) scale(6.7500,9.8333)" stroke="#444" stroke-width="5" fill="none" vector-effect="non-scaling-stroke" stroke-linecap="round" stroke-linejoin="round"/>
<path d="M1 0H3L4 1.1V4.9L3 6H1L0 4.9V1.1Z" transform="rotate(-90) translate(-562.50,2379.50) scale(6.2500,9.8333)" stroke="#444" stroke-width="5" fill="none" vector-effect="non-scaling-stroke" stroke-linecap="round" stroke-linejoin="round"/>
<path d="M1.7 5.7H2.3V6H1.7Z" transform="rotate(-90) translate(-521.50,2379.50) scale(7.7500,9.8333)" stroke="#444" stroke-width="5" fill="none" vector-effect="non-scaling-stroke" stroke-linecap="round" stroke-linejoin="round"/>
<path d="M0 0.9V0H4L2 3V6" transform="rotate(-90) translate(-475.50,2379.50) scale(7.7500,9.8333)" stroke="#444" stroke-width="5" fill="none" vector-effect="non-scaling-stroke" stroke-linecap="round" stroke-linejoin="round"/>
<path d="M1.4 -0.4Q3 1.2 3 3Q3 4.8 1.4 6.4" transform="rotate(-90) translate(-433.00,2379.50) scale(8.0000,9.8333)" stroke="#444" stroke-width="5" fill="none" vector-effect="non-scaling-stroke" stroke-linecap="round" stroke-linejoin="round"/>
<path d="M3.8 0.7L3 0H1L0 1V5L1 6H3L4 5V3.6L3 2.6H0" transform="rotate(-90) translate(-847.00,2386.10) scale(7.2500,8.3333)" stroke="#444" stroke-width="5" fill="none" vector-effect="non-scaling-stroke" stroke-linecap="round" stroke-linejoin="round"/>
<path d="M0 0V6M4 0V6M0 3H4" transform="rotate(180) translate(-1552.75,-840.75) scale(5.6250,5.5833)" stroke="#444" stroke-width="4.5" fill="none" vector-effect="non-scaling-stroke" stroke-linecap="round" stroke-linejoin="round"/>
<path d="M0 0V6H2.7L4 4.7V1.3L2.7 0Z" transform="rotate(180) translate(-1517.75,-840.75) scale(5.6250,5.5833)" stroke="#444" stroke-width="4.5" fill="none" vector-effect="non-scaling-stroke" stroke-linecap="round" stroke-linejoin="round"/>
<path d="M0 6V0H3L4 0.9V2.1L3 3H0M2.5 3L4 6" transform="rotate(180) translate(-1482.75,-840.75) scale(5.6250,5.5833)" stroke="#444" stroke-width="4.5" fill="none" vector-effect="non-scaling-stroke" stroke-linecap="round" stroke-linejoin="round"/>
<path d="M0 0V6H4" transform="rotate(180) translate(-1412.75,-840.75) scale(5.6250,5.5833)" stroke="#444" stroke-width="4.5" fill="none" vector-effect="non-scaling-stroke" stroke-linecap="round" stroke-linejoin="round"/>
<path d="M4 0H0V6M0 3H3.2" transform="rotate(180) translate(-1377.75,-840.75) scale(5.6250,5.5833)" stroke="#444" stroke-width="4.5" fill="none" vector-effect="non-scaling-stroke" stroke-linecap="round" stroke-linejoin="round"/>
<path d="M0 0L2 3L4 0M2 3V6" transform="rotate(180) translate(-1342.75,-840.75) scale(5.6250,5.5833)" stroke="#444" stroke-width="4.5" fill="none" vector-effect="non-scaling-stroke" stroke-linecap="round" stroke-linejoin="round"/>
<path d="M4 0.9L3.1 0H0.9L0 1V5L0.9 6H3.1L4 5.1V3.3H2.4" transform="rotate(180) translate(-1307.75,-840.75) scale(5.6250,5.5833)" stroke="#444" stroke-width="4.5" fill="none" vector-effect="non-scaling-stroke" stroke-linecap="round" stroke-linejoin="round"/>
<path d="M1.2 1.1L2.2 0V6" transform="rotate(180) translate(-1272.75,-840.75) scale(5.6250,5.5833)" stroke="#444" stroke-width="4.5" fill="none" vector-effect="non-scaling-stroke" stroke-linecap="round" stroke-linejoin="round"/>
<path d="M0 0V6M4 0V6M0 3H4" transform="rotate(180) translate(-3191.75,-861.75) scale(4.8750,4.5833)" stroke="#444" stroke-width="4.5" fill="none" vector-effect="non-scaling-stroke" stroke-linecap="round" stroke-linejoin="round"/>
<path d="M0 0V6H2.7L4 4.7V1.3L2.7 0Z" transform="rotate(180) translate(-3160.75,-861.75) scale(4.8750,4.5833)" stroke="#444" stroke-width="4.5" fill="none" vector-effect="non-scaling-stroke" stroke-linecap="round" stroke-linejoin="round"/>
<path d="M0 6V0H3L4 0.9V2.1L3 3H0M2.5 3L4 6" transform="rotate(180) translate(-3129.75,-861.75) scale(4.8750,4.5833)" stroke="#444" stroke-width="4.5" fill="none" vector-effect="non-scaling-stroke" stroke-linecap="round" stroke-linejoin="round"/>
<path d="M0 0L1 6L2 2L3 6L4 0" transform="rotate(180) translate(-3191.75,-810.75) scale(4.8750,4.9167)" stroke="#444" stroke-width="4.5" fill="none" vector-effect="non-scaling-stroke" stroke-linecap="round" stroke-linejoin="round"/>
<path d="M4 0.9L3.1 0H0.9L0 1V5L0.9 6H3.1L4 5.1V3.3H2.4" transform="rotate(180) translate(-3160.75,-810.75) scale(4.8750,4.9167)" stroke="#444" stroke-width="4.5" fill="none" vector-effect="non-scaling-stroke" stroke-linecap="round" stroke-linejoin="round"/>
<path d="M1.2 1.1L2.2 0V6" transform="rotate(180) translate(-3129.75,-810.75) scale(4.8750,4.9167)" stroke="#444" stroke-width="4.5" fill="none" vector-effect="non-scaling-stroke" stroke-linecap="round" stroke-linejoin="round"/>
<path d="M1.7 0.3H4.3V2.2H1.7ZM0.3 3.2H2.6V5.6H0.3ZM3.4 3.2H5.7V5.6H3.4Z" transform="translate(2295.6,1159) scale(7.5,10)" stroke="#333" stroke-width="5" fill="none" vector-effect="non-scaling-stroke" stroke-linejoin="round"/>
<path d="M2.2 0.2L0.6 1.9M1.6 0.9H4.6L1.2 4M1.9 2.3L3.2 3M1.8 3.6H5V5.8H1.8ZM1.8 4.7H5" transform="translate(2351,1159) scale(7.5,10)" stroke="#333" stroke-width="5" fill="none" vector-effect="non-scaling-stroke" stroke-linejoin="round"/>
<path d="M0.2 1H2.3V4.6H0.2ZM0.2 2.8H2.3M1.25 1V4.6M3.6 0.2L2.8 1.6M3.2 1H5.4L3 3M3.5 1.8L5.8 3.1M3.2 3.9H5.6V5.8H3.2Z" transform="translate(2411,1159) scale(7.5,10)" stroke="#333" stroke-width="5" fill="none" vector-effect="non-scaling-stroke" stroke-linejoin="round"/>
<path d="M1.2 0.3H4.8V2H1.2ZM0.2 2.9H5.8M1.6 2.9L1.3 4.1H4.6Q4.6 5.8 3.2 5.8" transform="translate(2465.5,1159) scale(7.5,10)" stroke="#333" stroke-width="5" fill="none" vector-effect="non-scaling-stroke" stroke-linejoin="round"/>
<path d="M0.6 0.9H5.4M1 1.9H5M0.3 2.9H5.7M3 0.2V2.9M2.4 3.2L0.4 5.2M1.6 4V5.8L3 5.1M3.2 3.5L5.7 5.8M4.8 3.6L3.8 4.4" transform="translate(2523.7,1159) scale(7.5,10)" stroke="#333" stroke-width="5" fill="none" vector-effect="non-scaling-stroke" stroke-linejoin="round"/>
<path d="M1.2 0.5H4.8M0.3 2.1H5.7M3 2.1V5.8L2.4 5.4M1.7 3.5L0.5 5.2M4.3 3.5L5.5 5.2" transform="translate(2580,1159) scale(7.5,10)" stroke="#333" stroke-width="5" fill="none" vector-effect="non-scaling-stroke" stroke-linejoin="round"/>
</g>
<rect x="0" y="0" width="4249" height="53" fill="#000"/>
</svg>
</body></html>
